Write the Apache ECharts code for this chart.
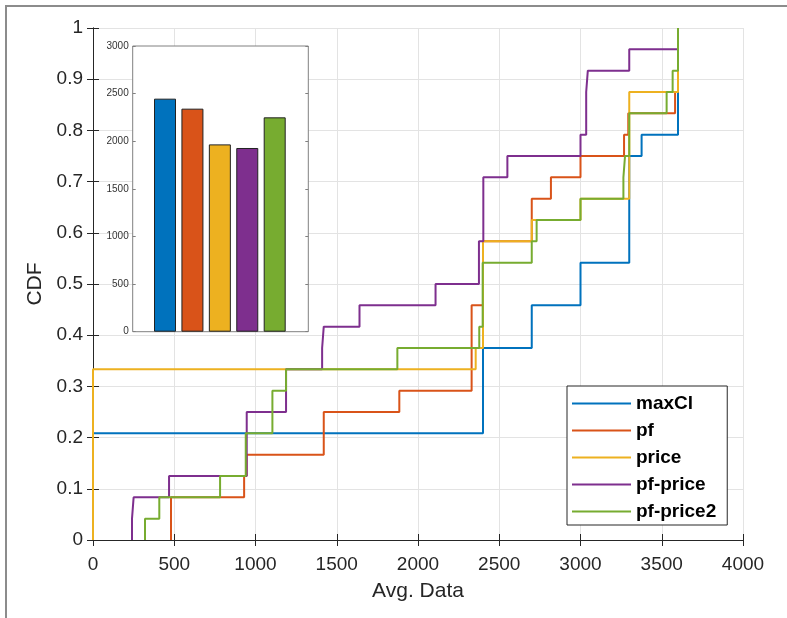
<!DOCTYPE html>
<html><head><meta charset="utf-8">
<script src="https://cdn.jsdelivr.net/npm/echarts@6/dist/echarts.min.js"></script>
<style>html,body{margin:0;padding:0;background:#fff}#c{width:787px;height:618px}</style>
</head><body><div id="c"></div>
<script>
// Series names (legend order)
const seriesNames = ['maxCl', 'pf', 'price', 'pf-price', 'pf-price2'];
// Sample values per series (24 samples each), read from the CDF steps
const maxCl = [0,0,0,0,0,2400,2400,2400,2400,2700,2700,3000,3000,3300,3300,3300,3300,3300,3376,3600,3600,3600,3600,3600];
const pf = [480,480,930,945,1420,1420,1885,2330,2330,2330,2330,2400,2400,2400,2700,2700,2818,3000,3268,3294,3582,3600,3600,3600];
const price = [0,0,0,0,0,0,0,0,2355,2400,2400,2400,2400,2400,2700,3000,3300,3300,3300,3300,3300,3600,3600,3600];
const pfPrice = [240,250,468,946,946,946,1188,1188,1410,1420,1640,2108,2375,2375,2402,2402,2402,2550,3000,3035,3035,3045,3300,3600];
const pfPrice2 = [320,408,782,940,940,1104,1104,1188,1873,2377,2398,2398,2398,2700,2730,3000,3264,3274,3300,3300,3530,3567,3600,3600];
// Inset bar values (average per method)
const barValues = [2447, 2342, 1967, 1929, 2251];
// Axis ranges / ticks
const xMin = 0, xMax = 4000, xStep = 500;
const yMin = 0, yMax = 1, yStep = 0.1;
const insetMax = 3000, insetStep = 500;

const colors = ['#0072BD', '#D95319', '#EDB120', '#7E2F8E', '#77AC30'];
const allSamples = [maxCl, pf, price, pfPrice, pfPrice2];

function cdfPoints(vals) {
  const s = vals.slice().sort((a, b) => a - b);
  const n = s.length;
  const pts = [[s[0], 0]];
  s.forEach((v, i) => pts.push([v, (i + 1) / n]));
  return pts;
}

const FONT = '"Liberation Sans", Arial, Helvetica, sans-serif';
const axisCol = '#262626';

const L = 93, T = 28, W = 650, H = 512;
const iL = 132.7, iT = 46, iW = 175.6, iH = 285.7;
const bL = 151.3, bW = 137.1;

const chart = echarts.init(document.getElementById('c'), null, {renderer: 'canvas'});

const lineSeries = allSamples.map((vals, i) => ({
  name: seriesNames[i],
  type: 'line',
  step: 'end',
  xAxisIndex: 0, yAxisIndex: 0,
  data: cdfPoints(vals),
  symbol: 'none',
  lineStyle: {color: colors[i], width: 2},
  itemStyle: {color: colors[i]},
  z: 2,
  animation: false
}));

const option = {
  animation: false,
  backgroundColor: '#fff',
  textStyle: {fontFamily: FONT},
  grid: [
    {left: L, top: T, width: W, height: H, containLabel: false, outerBoundsMode: 'none'},
    {left: iL, top: iT, width: iW, height: iH, containLabel: false, outerBoundsMode: 'none'},
    {left: bL, top: iT, width: bW, height: iH, containLabel: false, outerBoundsMode: 'none'}
  ],
  xAxis: [
    {type: 'value', gridIndex: 0, min: xMin, max: xMax, interval: xStep, position: 'bottom',
     name: 'Avg. Data', nameLocation: 'middle', nameGap: 41,
     nameTextStyle: {fontSize: 21, color: axisCol, fontFamily: FONT},
     axisLine: {show: true, lineStyle: {color: axisCol, width: 1}},
     axisTick: {show: true, inside: true, length: 6, lineStyle: {color: axisCol}},
     axisLabel: {fontSize: 19, color: axisCol, margin: 15, fontFamily: FONT, formatter: v => String(v)},
     splitLine: {show: true, lineStyle: {color: '#e3e3e3', width: 1}}},
    {type: 'value', gridIndex: 0, min: xMin, max: xMax, interval: xStep, position: 'top',
     axisLine: {show: true, lineStyle: {color: axisCol, width: 1}},
     axisTick: {show: true, inside: true, length: 6, lineStyle: {color: axisCol}},
     axisLabel: {show: false}, splitLine: {show: false}},
    {type: 'value', gridIndex: 1, min: 0, max: 1, show: false},
    {type: 'category', gridIndex: 2, data: seriesNames, show: false}
  ],
  yAxis: [
    {type: 'value', gridIndex: 0, min: yMin, max: yMax, interval: yStep, position: 'left',
     name: 'CDF', nameLocation: 'middle', nameGap: 39, nameRotate: 90,
     nameTextStyle: {fontSize: 21, color: axisCol, fontFamily: FONT},
     axisLine: {show: true, lineStyle: {color: axisCol, width: 1}},
     axisTick: {show: true, inside: true, length: 6, lineStyle: {color: axisCol}},
     axisLabel: {fontSize: 19, color: axisCol, margin: 10, fontFamily: FONT},
     splitLine: {show: true, lineStyle: {color: '#e3e3e3', width: 1}}},
    {type: 'value', gridIndex: 0, min: yMin, max: yMax, interval: yStep, position: 'right',
     axisLine: {show: true, lineStyle: {color: axisCol, width: 1}},
     axisTick: {show: true, inside: true, length: 6, lineStyle: {color: axisCol}},
     axisLabel: {show: false}, splitLine: {show: false}},
    {type: 'value', gridIndex: 1, min: 0, max: insetMax, interval: insetStep, position: 'left', z: 10,
     axisLine: {show: false},
     axisTick: {show: true, inside: true, length: 3, lineStyle: {color: '#808080'}},
     axisLabel: {fontSize: 10, color: '#333', margin: 4, fontFamily: FONT, formatter: v => String(v)},
     splitLine: {show: false}},
    {type: 'value', gridIndex: 1, min: 0, max: insetMax, interval: insetStep, position: 'right', z: 10,
     axisLine: {show: false},
     axisTick: {show: true, inside: true, length: 3, lineStyle: {color: '#808080'}},
     axisLabel: {show: false}, splitLine: {show: false}},
    {type: 'value', gridIndex: 2, min: 0, max: insetMax, show: false}
  ],
  legend: {
    show: true, orient: 'vertical', left: 567, top: 386,
    data: seriesNames,
    icon: 'rect', itemWidth: 59, itemHeight: 2, itemGap: 8,
    padding: [8, 11, 4, 5],
    backgroundColor: '#fff', borderColor: axisCol, borderWidth: 1,
    textStyle: {fontSize: 19, fontWeight: 'bold', color: '#000', fontFamily: FONT, lineHeight: 19},
    selectedMode: false, z: 20
  },
  graphic: [
    {type: 'line', shape: {x1: 5, y1: 6, x2: 787, y2: 6}, style: {stroke: '#8c8c8c', lineWidth: 2}, z: 30},
    {type: 'line', shape: {x1: 6, y1: 5, x2: 6, y2: 618}, style: {stroke: '#8c8c8c', lineWidth: 2}, z: 30},
    {type: 'rect', shape: {x: iL, y: iT, width: iW, height: iH}, style: {fill: '#fff', stroke: '#808080', lineWidth: 1}, z: 5}
  ],
  series: lineSeries.concat([{
    type: 'bar', xAxisIndex: 3, yAxisIndex: 4, z: 10,
    barWidth: 22,
    data: barValues.map((v, i) => ({value: v, itemStyle: {color: colors[i]}})),
    itemStyle: {borderColor: '#222', borderWidth: 1},
    animation: false
  }])
};
chart.setOption(option);
</script>
</body></html>
